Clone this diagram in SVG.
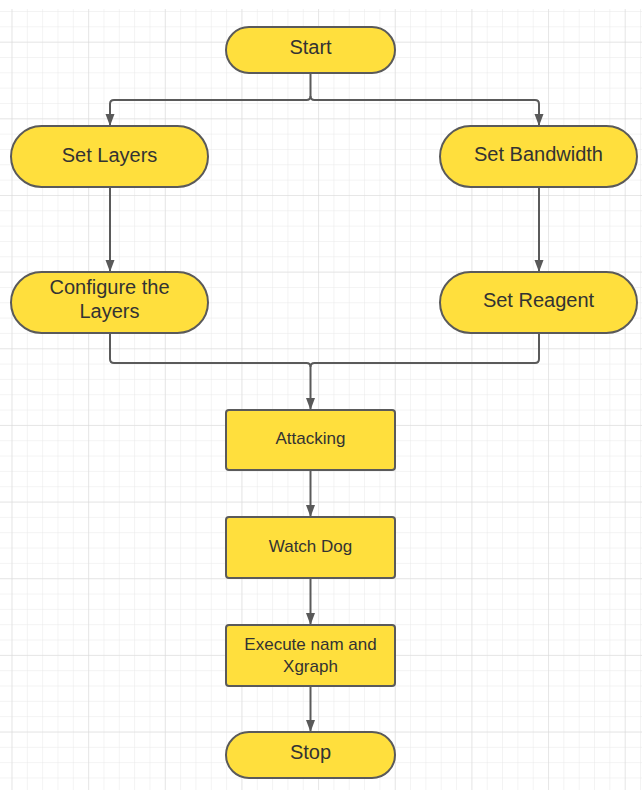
<svg xmlns="http://www.w3.org/2000/svg" width="642" height="790" viewBox="0 0 642 790">
<defs>
<pattern id="grid" x="11.5" y="11" width="15.33" height="15.33" patternUnits="userSpaceOnUse">
<path d="M0 0H15.33M0 0V15.33" fill="none" stroke="#e8e8e8" stroke-width="1"/>
</pattern>
<pattern id="gridM" x="11.5" y="41.7" width="76.65" height="76.65" patternUnits="userSpaceOnUse">
<path d="M0 0H76.65M0 0V76.65" fill="none" stroke="#d9d9d9" stroke-width="1"/>
</pattern>
<marker id="arr" viewBox="0 0 12 10" refX="12" refY="5" markerWidth="12" markerHeight="10" markerUnits="userSpaceOnUse" orient="auto">
<path d="M0 0.5L12 5L0 9.5Z" fill="#595959"/>
</marker>
</defs>
<style>
.term,.proc{fill:#ffdf3d;stroke:#5a5a5a;stroke-width:2}
.t{font-family:"Liberation Sans",Arial,sans-serif;fill:#333;text-anchor:middle}
.big{font-size:20px}
.small{font-size:17px}
#connectors path{fill:none;stroke:#5a5a5a;stroke-width:2}
</style>
<rect width="642" height="790" fill="#fff"/>
<rect x="0" y="9" width="642" height="781" fill="url(#grid)"/>
<rect x="0" y="9" width="642" height="781" fill="url(#gridM)"/>
<g id="connectors">
<path d="M310.5 73V96Q310.5 100 306.5 100H114Q110 100 110 104V126" marker-end="url(#arr)"/>
<path d="M310.5 96Q310.5 100 314.5 100H535Q539 100 539 104V126" marker-end="url(#arr)"/>
<path d="M110 187V272" marker-end="url(#arr)"/>
<path d="M539 187V272" marker-end="url(#arr)"/>
<path d="M110 333V359Q110 363 114 363H306.5Q310.5 363 310.5 367V410" marker-end="url(#arr)"/>
<path d="M539 333V359Q539 363 535 363H314.5Q310.5 363 310.5 367"/>
<path d="M310.5 470V517" marker-end="url(#arr)"/>
<path d="M310.5 578V625" marker-end="url(#arr)"/>
<path d="M310.5 686V732" marker-end="url(#arr)"/>
</g>
<g id="start">
<rect class="term" x="226" y="27" width="169" height="46" rx="23"/>
<text class="t big" x="310.5" y="54">Start</text>
</g>
<g id="setLayers">
<rect class="term" x="11" y="126" width="197" height="61" rx="30.5"/>
<text class="t big" x="109.5" y="162">Set Layers</text>
</g>
<g id="setBandwidth">
<rect class="term" x="440" y="126" width="197" height="61" rx="30.5"/>
<text class="t big" x="538.5" y="161">Set Bandwidth</text>
</g>
<g id="configureLayers">
<rect class="term" x="11" y="272" width="197" height="61" rx="30.5"/>
<text class="t big" x="109.5" y="294">Configure the</text>
<text class="t big" x="109.5" y="318">Layers</text>
</g>
<g id="setReagent">
<rect class="term" x="440" y="272" width="197" height="61" rx="30.5"/>
<text class="t big" x="538.5" y="307">Set Reagent</text>
</g>
<g id="attacking">
<rect class="proc" x="226" y="410" width="169" height="60" rx="3"/>
<text class="t small" x="310.5" y="444">Attacking</text>
</g>
<g id="watchDog">
<rect class="proc" x="226" y="517" width="169" height="61" rx="3"/>
<text class="t small" x="310.5" y="552">Watch Dog</text>
</g>
<g id="execute">
<rect class="proc" x="226" y="625" width="169" height="61" rx="3"/>
<text class="t small" x="310.5" y="650">Execute nam and</text>
<text class="t small" x="310.5" y="672">Xgraph</text>
</g>
<g id="stop">
<rect class="term" x="226" y="732" width="169" height="46" rx="23"/>
<text class="t big" x="310.5" y="759">Stop</text>
</g>
</svg>
